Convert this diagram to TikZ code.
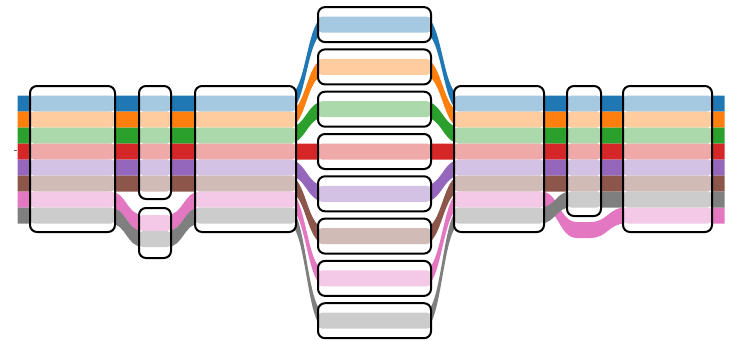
\documentclass[tikz,border=0pt]{standalone}
\usepackage{tikz}

\definecolor{tabblue}{HTML}{1F77B4}
\definecolor{taborange}{HTML}{FF7F0E}
\definecolor{tabgreen}{HTML}{2CA02C}
\definecolor{tabred}{HTML}{D62728}
\definecolor{tabpurple}{HTML}{9467BD}
\definecolor{tabbrown}{HTML}{8C564B}
\definecolor{tabpink}{HTML}{E377C2}
\definecolor{tabgray}{HTML}{7F7F7F}

\tikzset{
	boxbg/.style={fill=white, rounded corners=1.75mm},
	box/.style={draw=black, line width=0.5mm, rounded corners=1.75mm},
	light/.style={fill=#1!40!white, rounded corners=1mm},
}

% band of height 16 through the knots x/y, smooth steps between knots
\newcommand{\strand}[2]{%
	\foreach \xb/\yb [count=\n, remember=\xb as \xa, remember=\yb as \ya] in {#2}{
		\ifnum\n>1
			\fill[#1] (\xa-0.5,\ya-8) -- (\xa,\ya-8)
				.. controls ({(\xa+\xb)/2},\ya-8) and ({(\xa+\xb)/2},\yb-8) .. (\xb,\yb-8)
				-- (\xb+0.5,\yb-8) -- (\xb+0.5,\yb+8) -- (\xb,\yb+8)
				.. controls ({(\xa+\xb)/2},\yb+8) and ({(\xa+\xb)/2},\ya+8) .. (\xa,\ya+8)
				-- (\xa-0.5,\ya+8) -- cycle;
		\fi
	}%
}

\begin{document}
\begin{tikzpicture}[x=0.25mm,y=-0.25mm]
	\useasboundingbox (0,0) rectangle (730,340);
	
	% tick on the left
	\draw[black!60, line width=0.3mm] (13.5,150.5) -- (17,150.5);
	
	% strands: rows 103.5+16k, fanned out to 151.5+42.3(k-3) in the middle
	\foreach \c [count=\k from 0] in {tabblue,taborange,tabgreen,tabred,tabpurple,tabbrown}{
		\pgfmathsetmacro\rowy{103.5+16*\k}
		\pgfmathsetmacro\midy{151.5+42.3*(\k-3)}
		\strand{\c}{18/\rowy, 288/\rowy, 325/\midy, 424/\midy, 461/\rowy, 724/\rowy}
	}
	\strand{tabpink}{18/199.5, 110/199.5, 143/223, 167/223, 200/199.5, 288/199.5, 325/278.4, 424/278.4, 461/199.5, 541/199.5, 577/230, 590/230, 626/215.5, 724/215.5}
	\strand{tabgray}{18/215.5, 110/215.5, 143/239, 167/239, 200/215.5, 288/215.5, 325/320.7, 424/320.7, 461/215.5, 540/215.5, 571/199.5, 724/199.5}
	
	% box backgrounds
	\foreach \xa/\ya/\xb/\yb in {30/86/115/232, 139/86/171/199, 139/208/171/258, 195/86/296/232, 454/86/544/232, 567/86/601/216, 623/86/712/232}
		\fill[boxbg] (\xa,\ya) rectangle (\xb,\yb);
	\foreach \k in {0,...,7}
		\fill[boxbg] (318,{151.5+42.3*(\k-3)-17.5}) rectangle (431,{151.5+42.3*(\k-3)+17.5});
	
	% light bands inside the boxes
	\foreach \xa/\xb in {30/115, 195/296, 454/544}
		\foreach \c [count=\k from 0] in {tabblue,taborange,tabgreen,tabred,tabpurple,tabbrown,tabpink,tabgray}
			\fill[light=\c] (\xa,{95.5+16*\k}) rectangle (\xb,{111.5+16*\k});
	\foreach \xa/\xb in {139/171, 567/601, 623/712}
		\foreach \c [count=\k from 0] in {tabblue,taborange,tabgreen,tabred,tabpurple,tabbrown}
			\fill[light=\c] (\xa,{95.5+16*\k}) rectangle (\xb,{111.5+16*\k});
	\fill[light=tabpink] (139,215) rectangle (171,231);
	\fill[light=tabgray] (139,231) rectangle (171,247);
	\fill[light=tabgray] (567,191.5) rectangle (601,207.5);
	\fill[light=tabgray] (623,191.5) rectangle (712,207.5);
	\fill[light=tabpink] (623,207.5) rectangle (712,223.5);
	\foreach \c [count=\k from 0] in {tabblue,taborange,tabgreen,tabred,tabpurple,tabbrown,tabpink,tabgray}
		\fill[light=\c] (318,{151.5+42.3*(\k-3)-8}) rectangle (431,{151.5+42.3*(\k-3)+8});
	
	% box outlines
	\foreach \xa/\ya/\xb/\yb in {30/86/115/232, 139/86/171/199, 139/208/171/258, 195/86/296/232, 454/86/544/232, 567/86/601/216, 623/86/712/232}
		\draw[box] (\xa,\ya) rectangle (\xb,\yb);
	\foreach \k in {0,...,7}
		\draw[box] (318,{151.5+42.3*(\k-3)-17.5}) rectangle (431,{151.5+42.3*(\k-3)+17.5});
\end{tikzpicture}
\end{document}
